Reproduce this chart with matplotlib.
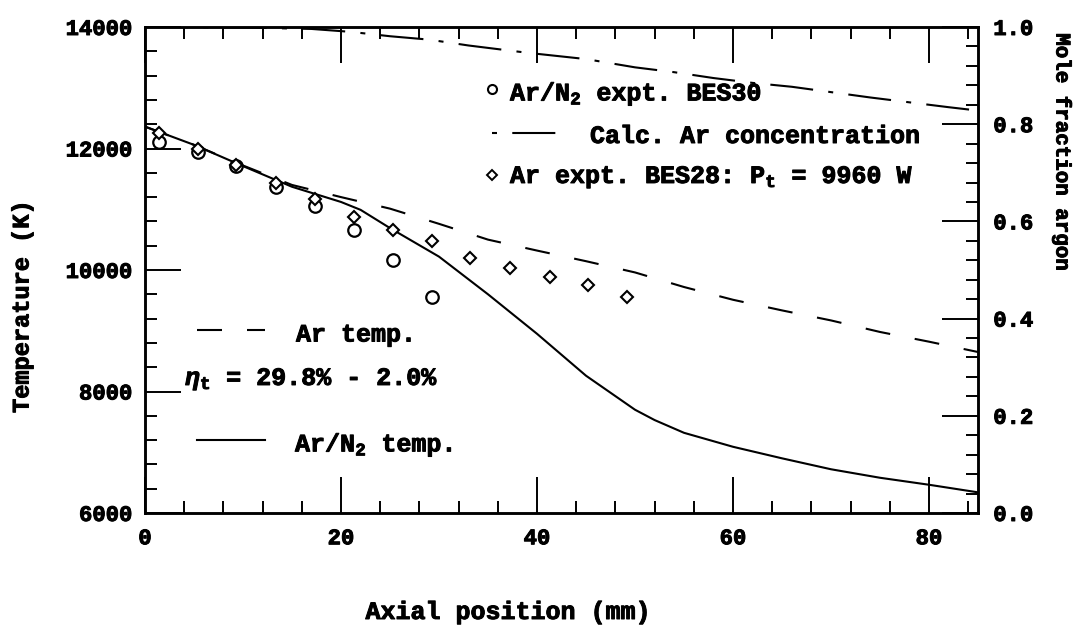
import matplotlib

matplotlib.use("Agg")
import matplotlib.pyplot as plt
import matplotlib.patheffects as pe
from matplotlib.lines import Line2D
from matplotlib.ticker import MultipleLocator, FormatStrFormatter

FONT = "Liberation Mono"
plt.rcParams["font.family"] = FONT
plt.rcParams["font.weight"] = "bold"
plt.rcParams["mathtext.fontset"] = "custom"
plt.rcParams["mathtext.rm"] = FONT + ":bold"
plt.rcParams["mathtext.it"] = FONT + ":italic:bold"
plt.rcParams["mathtext.bf"] = FONT + ":bold"
plt.rcParams["lines.scale_dashes"] = False

# Calculated Ar/N2 temperature (solid)
x_ar_n2 = [0, 5, 10, 15, 20, 22, 25, 30, 35, 40, 45, 50, 52, 55, 60, 65, 70, 75, 80, 85]
t_ar_n2 = [12360, 12060, 11710, 11370, 11120, 10990, 10690, 10220, 9600, 8950,
           8260, 7700, 7530, 7320, 7090, 6900, 6720, 6580, 6465, 6340]

# Calculated pure argon temperature (dashed)
x_ar = [0, 5, 10, 15, 20, 25, 30, 35, 40, 45, 50, 55, 60, 65, 70, 75, 80, 85]
t_ar = [12360, 12060, 11720, 11400, 11200, 11010, 10760, 10500, 10320, 10145,
        9960, 9720, 9510, 9335, 9170, 8980, 8820, 8650]

# Calculated argon mole fraction (dash-dot, right axis)
x_conc = [0, 10, 17, 21, 25, 29, 33, 39, 45, 50, 54, 58, 62, 66, 70, 74, 78, 82, 85]
f_conc = [1.0, 0.999, 0.996, 0.990, 0.981, 0.974, 0.962, 0.947, 0.934, 0.917,
          0.907, 0.895, 0.885, 0.877, 0.866, 0.855, 0.845, 0.835, 0.828]

# Ar/N2 experiment BES30
x_bes30 = [1.4, 5.4, 9.3, 13.4, 17.3, 21.3, 25.3, 29.3]
t_bes30 = [12100, 11950, 11720, 11360, 11060, 10660, 10160, 9550]

# Ar experiment BES28
x_bes28 = [1.4, 5.4, 9.3, 13.4, 17.3, 21.3, 25.3, 29.3, 33.2, 37.2, 41.3, 45.2, 49.2]
t_bes28 = [12250, 11990, 11730, 11440, 11170, 10880, 10660, 10470, 10190, 10040,
           9880, 9750, 9560]

lw = 1.5
dash = (0, (18, 18))
dashdot = (0, (31, 11, 3.6, 11))
fs_text = 18
fs_tick = 16
heavy = [pe.withStroke(linewidth=0.7, foreground="black")]

fig = plt.figure(figsize=(10.84, 6.3), dpi=100)
ax = fig.add_axes([145 / 1084, 1 - 513 / 630, 833 / 1084, 486 / 630])
ax2 = ax.twinx()

ax.plot(x_ar_n2, t_ar_n2, color="black", lw=lw)
ax.plot(x_ar, t_ar, color="black", lw=lw, linestyle=dash)
ax.plot(x_bes30, t_bes30, linestyle="none", marker="o", ms=9, mfc="white",
        mec="black", mew=1.6)
ax.plot(x_bes28, t_bes28, linestyle="none", marker="D", ms=6.5, mfc="white",
        mec="black", mew=1.5)
ax2.plot(x_conc, f_conc, color="black", lw=lw, linestyle=dashdot)

ax.set_xlim(0, 85)
ax.set_ylim(6000, 14000)
ax2.set_ylim(0, 1.0)

ax.xaxis.set_major_locator(MultipleLocator(20))
ax.xaxis.set_minor_locator(MultipleLocator(4))
ax.yaxis.set_major_locator(MultipleLocator(2000))
ax.yaxis.set_minor_locator(MultipleLocator(400))
ax2.yaxis.set_major_locator(MultipleLocator(0.2))
ax2.yaxis.set_minor_locator(MultipleLocator(0.04))
ax2.yaxis.set_major_formatter(FormatStrFormatter("%.1f"))

ax.tick_params(which="both", direction="in", top=True, right=False, width=1.4,
               labelsize=fs_tick)
ax.tick_params(which="major", length=26)
ax.tick_params(which="minor", length=8.5)
ax.tick_params(axis="y", pad=9)
ax.tick_params(axis="x", pad=11)
ax2.tick_params(which="both", direction="in", width=1.4, labelsize=fs_tick,
                pad=11)
ax2.tick_params(which="major", length=26)
ax2.tick_params(which="minor", length=8.5)

for a in (ax, ax2):
    for sp in a.spines.values():
        sp.set_linewidth(1.8)
    for t in a.get_xticklabels() + a.get_yticklabels():
        t.set_path_effects(heavy)

fig.text(508 / 1084, 1 - 612 / 630, "Axial position (mm)", ha="center",
         va="center", fontsize=fs_text, path_effects=heavy)
fig.text(22 / 1084, 1 - 307 / 630, "Temperature (K)", ha="center", va="center",
         rotation=90, fontsize=17, path_effects=heavy)
fig.text(1062 / 1084, 1 - 152 / 630, "Mole fraction argon", ha="center",
         va="center", rotation=270, fontsize=15, path_effects=heavy)


def px(x, y):
    # figure pixels -> axes fraction
    return (x - 145) / 833, (513 - y) / 486


def key(x0, x1, y, **kw):
    (a0, b), (a1, _) = px(x0, y), px(x1, y)
    ax.add_line(Line2D([a0, a1], [b, b], transform=ax.transAxes, color="black",
                       lw=lw, clip_on=False, **kw))


def label(x, y, s):
    a, b = px(x, y)
    ax.text(a, b, s, transform=ax.transAxes, fontsize=fs_text, va="baseline",
            ha="left", path_effects=heavy)


# upper legend
a, b = px(492, 89)
ax.plot([a], [b], transform=ax.transAxes, marker="o", ms=6.5, mfc="white",
        mec="black", mew=1.5)
label(510, 100.5, r"Ar/N$_2$ expt. BES30")
key(492, 556, 133, linestyle=(42, (31, 11, 3.6, 11)))
label(590, 143, "Calc. Ar concentration")
a, b = px(492, 175)
ax.plot([a], [b], transform=ax.transAxes, marker="D", ms=5, mfc="white",
        mec="black", mew=1.4)
label(510, 183, r"Ar expt. BES28: P$_\mathrm{t}$ = 9960 W")

# lower legend
key(197, 265, 330, linestyle=dash)
label(296, 341.5, "Ar temp.")
label(185, 385, r"$\eta_\mathrm{t}$ = 29.8% - 2.0%")
key(197, 265, 440)
label(295, 451.5, r"Ar/N$_2$ temp.")

fig.savefig("out.png", dpi=100)
